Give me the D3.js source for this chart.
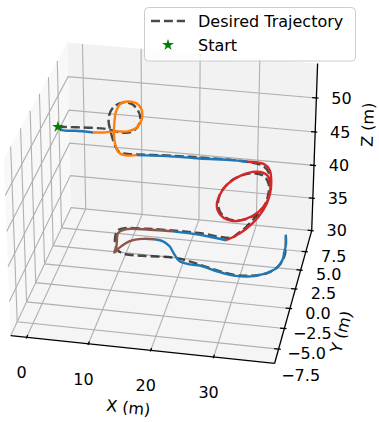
<!DOCTYPE html>
<html>
<head>
<meta charset="utf-8">
<script src="https://cdn.jsdelivr.net/npm/d3@7"></script>
<style>
  body { margin: 0; background: #fff; }
  svg { display: block; font-family: "DejaVu Sans", sans-serif; }
</style>
</head>
<body>
<svg id="chart" width="379" height="422"></svg>
<script>
// axis limits and ticks
const xDomain = [-2.6, 39.6];
const yDomain = [-6.7, 10.45];
const zDomain = [30, 55];
const xTicks = [0, 10, 20, 30];
const yTicks = [-7.5, -5, -2.5, 0, 2.5, 5, 7.5];
const zTicks = [30, 35, 40, 45, 50];

const startPoint = [0, 3, 50];

// desired path, [x, y, z] in metres
const desired = [
  [0, 3, 50], [5.6, 3, 50.3], [8.2, 3, 50.3], [10.5, 3, 50.0], [12.1, 3, 50.2],
  [13.2, 3, 51.1], [13.6, 3, 52.3], [13.2, 3, 53.4], [12.2, 3, 54.2], [10.9, 3, 54.3],
  [9.6, 3, 53.8], [8.7, 3, 52.8], [8.4, 3, 51.4], [8.7, 3, 50.1], [9.1, 3, 48.8],
  [9.6, 3, 47.7], [10.2, 3, 47.1], [11.5, 3, 47.0], [17.8, 3, 47.3], [23.3, 3, 47.45],
  [28.7, 3, 47.5], [31.5, 3, 47.4], [33.5, 3, 47.1], [34.5, 3, 46.25], [34.8, 3, 44.7],
  [34.7, 3, 42.9], [34.1, 3, 41.5], [32.8, 3, 40.1], [31.0, 3, 39.1], [29.0, 3, 38.75],
  [27.2, 3, 39.3], [26.4, 3, 40.7], [26.7, 3, 42.4], [28.0, 3, 44.1], [29.9, 3, 45.3],
  [32.2, 3, 45.9], [33.8, 3, 45.6], [34.6, 3, 44.5], [34.5, 3, 42.7], [34.0, 3, 41.4],
  [32.6, 3, 39.6], [31.0, 3, 37.9], [29.5, 3, 36.7], [28.6, 3.4, 35.7],
  [23.0, 3.6, 35.7], [18.55, 3.6, 35.7], [14.3, 3.5, 35.7], [10.5, 3.25, 35.7],
  [9.7, 2.85, 35.7], [9.9, 1.7, 35.7], [10.8, 0.55, 35.7], [12.05, 0, 35.7],
  [15.4, -0.05, 35.7], [20.2, 0.1, 35.7], [22.6, -0.1, 35.7], [24.9, -0.45, 35.7],
  [27.6, -0.9, 35.7], [30.8, -1.3, 35.7], [33.5, -1.2, 35.7], [36.1, -0.65, 35.7],
  [37.6, 0.6, 35.7], [37.9, 1.9, 35.7], [37.2, 4.25, 35.7]
];

// flown path, split by phase
const cruise1 = [[0, 3, 50], [0.7, 3, 49.6], [2.8, 3, 49.65], [5.8, 3, 49.65]];
const loop1 = [
  [5.8, 3, 49.65], [7.7, 3, 49.8], [9.6, 3, 50.1], [11.5, 3, 50.25], [13.2, 3, 51.1],
  [13.95, 3, 52.9], [13.4, 3, 54.1], [12.3, 3, 54.5], [10.4, 3, 54.1], [9.6, 3, 52.8],
  [9.35, 3, 51.3], [9.25, 3, 49.8], [9.4, 3, 48.4], [9.9, 3, 47.2], [10.75, 3, 46.8],
  [11.9, 3, 46.8], [13.0, 3, 46.95]
];
const cruise2 = [[13.0, 3, 46.95], [17.9, 3, 47.2], [23.3, 3, 47.3], [28.8, 3, 47.5], [31.0, 3, 47.45]];
const loop2 = [
  [31.0, 3, 47.45], [33.7, 3, 47.35], [34.7, 3, 46.55], [35.0, 3, 44.9], [34.85, 3, 43.15],
  [34.35, 3, 41.9], [33.0, 3, 40.3], [31.1, 3, 39.2], [28.9, 3, 38.65], [27.0, 3, 39.2],
  [26.2, 3, 40.5], [26.6, 3, 42.2], [28.0, 3, 44.05], [30.2, 3, 45.45], [32.6, 3, 46.15],
  [34.3, 3, 45.8], [34.85, 3, 44.6], [34.75, 3, 42.9], [34.35, 3, 41.65], [33.0, 3, 39.55],
  [31.1, 3, 37.7], [29.5, 3, 36.6], [27.8, 3, 35.7]
];
const cruise3 = [[27.8, 3, 35.7], [24.8, 3.27, 35.7], [21.9, 3.43, 35.7], [18.7, 3.48, 35.7]];
const turn = [
  [18.7, 3.48, 35.7], [14.9, 3.4, 35.7], [11.1, 3.2, 35.7], [10.0, 2.6, 35.7], [10.6, 0.86, 35.7],
  [10.7, 0, 35.7], [11.2, 0.7, 35.7], [12.4, 1.66, 35.7], [14.4, 2.13, 35.7], [16.5, 2.2, 35.7]
];
const cruise4 = [
  [16.5, 2.2, 35.7], [17.65, 2.08, 35.7], [19.05, 1.53, 35.7], [20.35, 0.53, 35.7],
  [21.55, -0.26, 35.7], [23.35, -0.55, 35.7], [25.0, -0.56, 35.7], [26.2, -0.76, 35.7],
  [28.0, -1.07, 35.7], [30.9, -1.41, 35.7], [33.6, -1.29, 35.7], [35.05, -0.95, 35.7],
  [36.0, -0.65, 35.7], [37.3, 0.12, 35.7], [37.8, 1.25, 35.7], [37.7, 2.13, 35.7],
  [37.6, 3.22, 35.7], [37.1, 4.5, 35.7]
];

const segments = [
  { pts: cruise1, color: "#1f77b4" },
  { pts: loop1, color: "#ff7f0e" },
  { pts: cruise2, color: "#1f77b4" },
  { pts: loop2, color: "#d62728" },
  { pts: cruise3, color: "#1f77b4" },
  { pts: turn, color: "#8c564b" },
  { pts: cruise4, color: "#1f77b4" }
];

// ---- 3d projection, matplotlib style (persp, dist 10) ----
const box = [4, 4, 3].map(b => b * 1.8294640721620434 / Math.hypot(4, 4, 3));
const xs = d3.scaleLinear().domain(xDomain).range([0, box[0]]);
const ys = d3.scaleLinear().domain(yDomain).range([0, box[1]]);
const zs = d3.scaleLinear().domain(zDomain).range([0, box[2]]);
const elev = 29 * Math.PI / 180, azim = -79 * Math.PI / 180, dist = 10;
const wv = [Math.cos(elev) * Math.cos(azim), Math.cos(elev) * Math.sin(azim), Math.sin(elev)];
const uv = [-Math.sin(azim), Math.cos(azim), 0];
const vv = [-Math.sin(elev) * Math.cos(azim), -Math.sin(elev) * Math.sin(azim), Math.cos(elev)];
const viewX = d3.scaleLinear().domain([-0.095, 0.09]).range([-50.5, 373.1]);
const viewY = d3.scaleLinear().domain([-0.095, 0.09]).range([414.5, -9.1]);

function project(x, y, z) {
  const p = [xs(x) - box[0] / 2, ys(y) - box[1] / 2, zs(z) - box[2] / 2];
  const dot = a => a[0] * p[0] + a[1] * p[1] + a[2] * p[2];
  const den = dist - dot(wv);
  return [viewX(dot(uv) / den), viewY(dot(vv) / den)];
}
const P = d => project(d[0], d[1], d[2]);

const svg = d3.select("#chart");
const [x0, x1] = xDomain, [y0, y1] = yDomain, [z0, z1] = zDomain;
const poly = pts => "M" + pts.map(P).map(p => p.join(",")).join("L");

// panes
const panes = [
  { pts: [[x0, y0, z0], [x0, y1, z0], [x0, y1, z1], [x0, y0, z1]], fill: "rgb(242,242,242)" },
  { pts: [[x0, y1, z0], [x1, y1, z0], [x1, y1, z1], [x0, y1, z1]], fill: "rgb(230,230,230)" },
  { pts: [[x0, y0, z0], [x1, y0, z0], [x1, y1, z0], [x0, y1, z0]], fill: "rgb(236,236,236)" }
];
svg.append("g").selectAll("path").data(panes).join("path")
  .attr("d", d => poly(d.pts) + "Z")
  .attr("fill", d => d.fill).attr("fill-opacity", 0.5);

// grid
const inY = t => t >= y0 && t <= y1;
const grid = svg.append("g").attr("fill", "none").attr("stroke", "#b0b0b0").attr("stroke-width", 1.1);
xTicks.forEach(t => grid.append("path").attr("d", poly([[t, y0, z0], [t, y1, z0], [t, y1, z1]])));
yTicks.filter(inY).forEach(t => grid.append("path").attr("d", poly([[x1, t, z0], [x0, t, z0], [x0, t, z1]])));
zTicks.forEach(t => grid.append("path").attr("d", poly([[x0, y0, t], [x0, y1, t], [x1, y1, t]])));

// axis lines and ticks
const ax = svg.append("g").attr("fill", "none").attr("stroke", "#000").attr("stroke-width", 1.3);
ax.append("path").attr("d", poly([[x0, y0, z0], [x1, y0, z0]]));
ax.append("path").attr("d", poly([[x1, y0, z0], [x1, y1, z0]]));
ax.append("path").attr("d", poly([[x1, y1, z0], [x1, y1, z1]]));
const dx = (x1 - x0) / 12, dy = (y1 - y0) / 12;
xTicks.forEach(t => ax.append("path").attr("d", poly([[t, y0 + 0.2 * dy, z0], [t, y0 - 0.1 * dy, z0]])));
yTicks.filter(inY).forEach(t => ax.append("path").attr("d", poly([[x1 - 0.2 * dx, t, z0], [x1 + 0.1 * dx, t, z0]])));
zTicks.forEach(t => ax.append("path").attr("d", poly([[x1 - 0.2 * dx, y1, t], [x1 + 0.1 * dx, y1, t]])));

// tick labels
const fmt = d3.format(".1f");
const labels = svg.append("g").attr("font-size", 16).attr("fill", "#000").attr("text-anchor", "middle");
xTicks.forEach(t => {
  const [px, py] = project(t, y0, z0);
  labels.append("text").attr("x", px - 5).attr("y", py + 35).attr("dy", "0.36em").text(t);
});
yTicks.forEach(t => {
  const [px, py] = project(x1, t, z0);
  labels.append("text").attr("x", px + 28).attr("y", py + 4.5).attr("dy", "0.36em")
    .text(fmt(t).replace("-", "\u2212"));
});
zTicks.forEach(t => {
  const [px, py] = project(x1, y1, t);
  labels.append("text").attr("x", px + 25).attr("y", py).attr("dy", "0.36em").text(t);
});

// axis titles
function axisTitle(a, b, off, text) {
  const pa = P(a), pb = P(b), mid = P(a.map((v, i) => (v + b[i]) / 2));
  let ang = Math.atan2(pb[1] - pa[1], pb[0] - pa[0]) * 180 / Math.PI;
  const cx = mid[0] + off[0], cy = mid[1] + off[1];
  labels.append("text").attr("transform", `translate(${cx},${cy}) rotate(${ang})`)
    .attr("dy", "0.36em").text(text);
}
axisTitle([x0, y0, z0], [x1, y0, z0], [-13, 58], "X (m)");
axisTitle([x1, y0, z0], [x1, y1, z0], [47, 38], "Y (m)");
axisTitle([x1, y1, z0], [x1, y1, z1], [53, -24], "Z (m)");

// trajectories
const line = d3.line().curve(d3.curveCatmullRom.alpha(0.5));
svg.append("path").attr("d", line(desired.map(P)))
  .attr("fill", "none").attr("stroke", "#000").attr("stroke-opacity", 0.7)
  .attr("stroke-width", 2.4).attr("stroke-dasharray", "9,3.9");
svg.append("g").selectAll("path").data(segments).join("path")
  .attr("d", d => line(d.pts.map(P)))
  .attr("fill", "none").attr("stroke", d => d.color).attr("stroke-width", 2.4)
  .attr("stroke-linejoin", "round");

const star = d3.symbol(d3.symbolStar, 42);
const sp = P(startPoint);
svg.append("path").attr("d", star()).attr("transform", `translate(${sp[0]},${sp[1]})`).attr("fill", "#008000");

// legend
const lg = svg.append("g");
lg.append("rect").attr("x", 144.5).attr("y", 7.5).attr("width", 211).attr("height", 53.5).attr("rx", 4)
  .attr("fill", "#fff").attr("fill-opacity", 0.8).attr("stroke", "#cccccc").attr("stroke-width", 1);
lg.append("line").attr("x1", 151).attr("x2", 185).attr("y1", 21).attr("y2", 21)
  .attr("stroke", "#000").attr("stroke-opacity", 0.7).attr("stroke-width", 2.4).attr("stroke-dasharray", "9,3.9");
lg.append("path").attr("d", star()).attr("transform", "translate(168,45)").attr("fill", "#008000");
lg.append("text").attr("x", 198).attr("y", 27.3).attr("font-size", 16).text("Desired Trajectory");
lg.append("text").attr("x", 198).attr("y", 50.7).attr("font-size", 16).text("Start");
</script>
</body>
</html>
